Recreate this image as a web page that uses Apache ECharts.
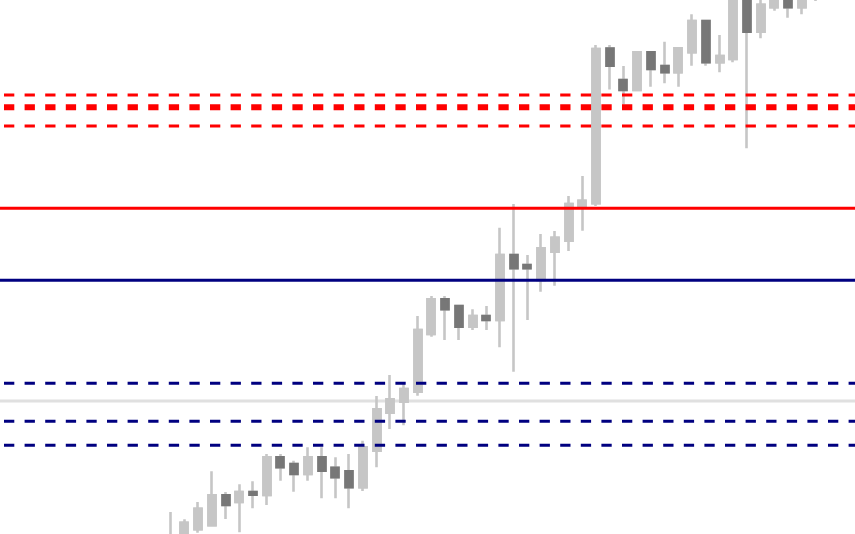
<!DOCTYPE html>
<html>
<head>
<meta charset="utf-8">
<script src="https://cdn.jsdelivr.net/npm/echarts@6/dist/echarts.min.js"></script>
<style>
html,body{margin:0;padding:0;background:#fff;}
#chart{width:855px;height:534px;}
</style>
</head>
<body>
<div id="chart"></div>
<script>
// ---- data (price units) ----
const categories = [];
const opens  = [-20, -10, 4.7, 8.7, 38.7, 32, 42, 39, 76.7, 70, 60, 76.7, 66.3, 62.7, 46.7, 83.3, 121.3, 132.3, 142.3, 200, 234.7, 228, 207.3, 218, 214, 279, 269, 254, 282.3, 293.3, 327.3, 330.7, 485.5, 454, 444, 481.7, 468, 461.7, 481.7, 513, 471.7, 475, 545, 502.3, 526.7, 555, 526.7, 540];
const closes = [-5, 11.3, 25.3, 38.7, 29, 42, 39.3, 76.7, 66.7, 60, 76.7, 63.3, 56.7, 46.7, 86.7, 124.7, 134.7, 145, 204, 234.7, 224.7, 207.3, 218, 214, 279, 265.7, 265.7, 285.7, 296.3, 330, 333.3, 485, 468.3, 444, 481.7, 465, 461.7, 485.7, 513, 471.7, 478, 545, 502.3, 529.3, 550, 526.7, 548, 555];
const lows   = [-30, -15, 1.3, 8.7, 15, 1.7, 25.7, 29, 53.3, 42.3, 53.3, 35.7, 35.7, 25.7, 43, 66.7, 105, 108.7, 138.3, 197.3, 194, 194, 204, 204, 186.7, 162.3, 214, 242.3, 248.3, 283, 303.3, 328, 444.5, 429.5, 444, 447.3, 450.7, 447.3, 468.3, 468.3, 461.7, 471.7, 385.7, 495.7, 523.3, 516.3, 519.7, 533];
const highs  = [22, 14.7, 32, 62.7, 42, 49.7, 52.7, 80, 80, 73.3, 86.7, 86.7, 76.7, 80, 93.3, 138, 159, 151.3, 218, 238, 238, 228, 224.7, 228, 306.3, 330, 279, 300, 303, 338, 358, 489, 489, 468, 482, 481.7, 492.3, 485.7, 519.7, 513, 499, 550, 550, 536, 560, 560, 555, 560];
for (let i = 0; i < opens.length; i++) categories.push('C' + (i + 1));

const redDashedThin = [439, 408];
const redDashedThick = [426.7];
const redSolid = [325.7];
const navySolid = [253.7];
const navyDashed = [150.7, 112.7, 88.7];
const greySolid = [133];

// ---- chart ----
const yMin = 0, yMax = 534;
const LIGHT = '#c6c6c6', DARK = '#777777';
const candleData = opens.map((o, i) => [o, closes[i], lows[i], highs[i]]);
// bodies only (wick clamped to the body), used to paint dark bodies over light wicks
const bodyData = opens.map((o, i) => [o, closes[i], Math.min(o, closes[i]), Math.max(o, closes[i])]);

function levelSeries(v, color, width, dashed, z) {
  return {
    type: 'line',
    xAxisIndex: 0, yAxisIndex: 0,
    data: [[0, v], [1, v]],
    symbol: 'none',
    silent: true,
    animation: false,
    z: z,
    lineStyle: {
      color: color,
      width: width,
      type: dashed ? [10.3, 10.3] : 'solid',
      dashOffset: dashed ? 16.6 : 0,
      cap: 'butt'
    }
  };
}

const series = [];
greySolid.forEach(v => series.push(levelSeries(v, '#e0e0e0', 3, false, 1)));
series.push({
  type: 'candlestick',
  xAxisIndex: 1, yAxisIndex: 1,
  data: candleData,
  barWidth: 7.5,
  animation: false,
  silent: true,
  z: 2,
  itemStyle: {
    color: LIGHT, color0: LIGHT,
    borderColor: LIGHT, borderColor0: LIGHT,
    borderWidth: 2.6
  }
});
series.push({
  type: 'candlestick',
  xAxisIndex: 1, yAxisIndex: 1,
  data: bodyData,
  barWidth: 7.5,
  animation: false,
  silent: true,
  z: 3,
  itemStyle: {
    color: LIGHT, color0: DARK,
    borderColor: LIGHT, borderColor0: DARK,
    borderWidth: 2.6
  }
});
redDashedThin.forEach(v => series.push(levelSeries(v, '#ff0000', 3, true, 5)));
redDashedThick.forEach(v => series.push(levelSeries(v, '#ff0000', 6, true, 5)));
redSolid.forEach(v => series.push(levelSeries(v, '#ff0000', 3, false, 5)));
navySolid.forEach(v => series.push(levelSeries(v, '#000080', 3, false, 5)));
navyDashed.forEach(v => series.push(levelSeries(v, '#000080', 3, true, 5)));

const band = 13.72;
const chart = echarts.init(document.getElementById('chart'), null, { renderer: 'canvas' });
chart.setOption({
  animation: false,
  backgroundColor: '#ffffff',
  grid: [
    { left: 0, right: 0, top: 0, bottom: 0 },
    { left: 170.7 - band / 2, width: band * opens.length, top: 0, bottom: 0 }
  ],
  xAxis: [
    { type: 'value', gridIndex: 0, min: 0, max: 1, show: false },
    { type: 'category', gridIndex: 1, data: categories, boundaryGap: true, show: false }
  ],
  yAxis: [
    { type: 'value', gridIndex: 0, min: yMin, max: yMax, show: false },
    { type: 'value', gridIndex: 1, min: yMin, max: yMax, show: false }
  ],
  series: series
});
</script>
</body>
</html>
